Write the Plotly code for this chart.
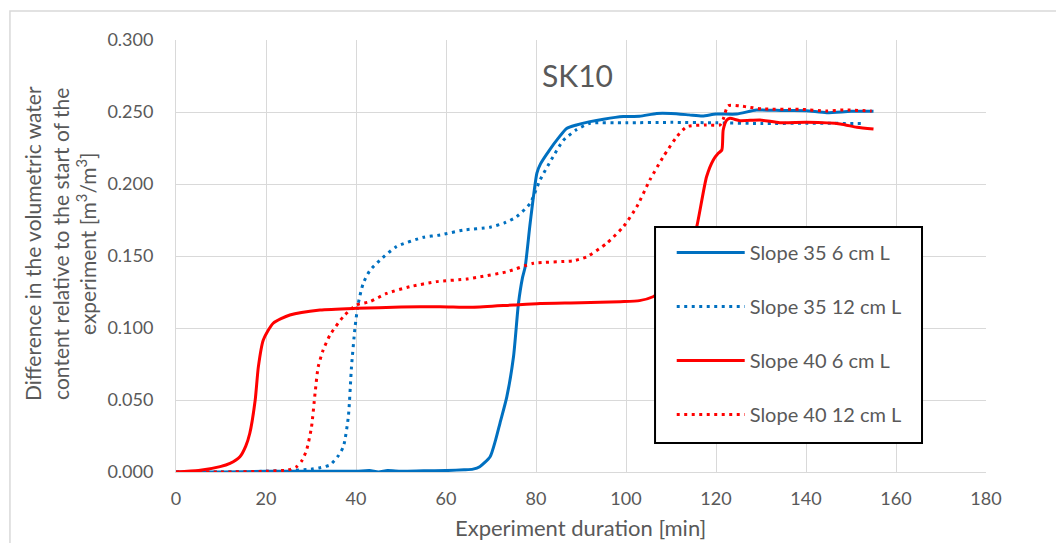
import plotly.graph_objects as go

# ---- data ----
s35_6_x = [0, 5, 10, 20, 30, 40, 43, 45, 47, 50, 55, 60, 64, 66, 67.5, 69.8, 71, 72, 73.5, 75, 76.1, 77, 77.6, 78.7,
           80.2, 81, 83, 85, 86.8, 89, 92, 95, 99.4, 103, 106.8, 110, 114, 117, 120, 124.6, 129, 135, 140, 144.6, 150, 155]
s35_6_y = [0, 0, 0, 0.0005, 0.0005, 0.0005, 0.001, 0, 0.001, 0.0005, 0.0008, 0.001, 0.0015, 0.002, 0.0037, 0.0106,
           0.022, 0.034, 0.052, 0.08, 0.117, 0.135, 0.1426, 0.1727, 0.2076, 0.214, 0.2236, 0.232, 0.2386, 0.241,
           0.2433, 0.245, 0.2468, 0.247, 0.249, 0.249, 0.248, 0.2472, 0.2486, 0.2486, 0.2514, 0.251, 0.2509,
           0.2495, 0.2505, 0.2505]

s35_12_x = [0, 10, 20, 25, 30, 32, 34.2, 36, 37.2, 38.3, 39.0, 39.8, 40.5, 41.6, 43.1, 45.3, 49, 55, 58.7, 63.8,
            69.8, 73, 75.7, 78.7, 80.9, 83.8, 86, 88.9, 92, 100, 110, 120, 130, 140, 152.7]
s35_12_y = [0, 0, 0.0005, 0.001, 0.002, 0.003, 0.0049, 0.011, 0.0176, 0.0384, 0.0731, 0.1009, 0.117, 0.131, 0.140,
            0.147, 0.1565, 0.163, 0.1646, 0.168, 0.170, 0.173, 0.1773, 0.1866, 0.2028, 0.219, 0.23, 0.2375, 0.2421,
            0.2425, 0.2428, 0.2425, 0.242, 0.2422, 0.242]

s40_6_x = [0, 5, 9.8, 12, 14.2, 15.5, 16.4, 17.6, 18.3, 19.4, 21.6, 25.3, 32, 40.1, 50, 58.7, 66, 75, 80.9, 90,
           98.7, 103, 106, 109, 112, 114, 115.7, 117.9, 119.4, 120.5, 121.3, 121.6, 122.4, 123.1, 125.3, 129.8,
           134.2, 140.2, 147.6, 151.3, 155]
s40_6_y = [0, 0.001, 0.0037, 0.006, 0.0106, 0.018, 0.0269, 0.05, 0.073, 0.0917, 0.1033, 0.109, 0.1125, 0.1137,
           0.1145, 0.1148, 0.1144, 0.116, 0.117, 0.1175, 0.1183, 0.119, 0.1217, 0.128, 0.14, 0.153, 0.170, 0.205,
           0.2167, 0.2213, 0.2236, 0.2375, 0.2444, 0.2456, 0.244, 0.2444, 0.2426, 0.2428, 0.2417, 0.2394, 0.2382]

s40_12_x = [0, 10, 20, 25, 26.8, 28, 29, 30.1, 30.9, 31.6, 32.7, 34.2, 37.2, 40.1, 43.1, 46.8, 52, 57.9, 64.6, 67.6,
            73.5, 79.4, 88.3, 91.3, 95.7, 99.4, 102.4, 105.3, 108.3, 111.3, 113.5, 117.9, 120.9, 121.6, 122.7, 125.3,
            127.6, 130.5, 138.7, 144.6, 148.3, 154.6]
s40_12_y = [0, 0, 0.0005, 0.0015, 0.0037, 0.008, 0.015, 0.031, 0.0546, 0.073, 0.0847, 0.095, 0.108, 0.116, 0.1183,
            0.124, 0.1287, 0.1322, 0.134, 0.1356, 0.139, 0.1449, 0.1467, 0.1495, 0.1588, 0.1703, 0.1842, 0.2028,
            0.219, 0.2329, 0.2398, 0.241, 0.241, 0.245, 0.2544, 0.2542, 0.2532, 0.2521, 0.2519, 0.2507, 0.2514, 0.2507]

names = ["Slope 35 6 cm L", "Slope 35 12 cm L", "Slope 40 6 cm L", "Slope 40 12 cm L"]
chart_title = "SK10"
x_title = "Experiment duration [min]"
y_title = "Difference in the volumetric water<br>content relative to the start of the<br>experiment [m<sup>3</sup>/m<sup>3</sup>]"

BLUE = "#0070C0"
RED = "#FF0000"
TXT = "#595959"
FONT = "Lato"
DOT = "3px,4.5px"

fig = go.Figure()
series = [
    (s35_6_x, s35_6_y, BLUE, "solid"),
    (s35_12_x, s35_12_y, BLUE, DOT),
    (s40_6_x, s40_6_y, RED, "solid"),
    (s40_12_x, s40_12_y, RED, DOT),
]
for i, (xs, ys, col, dash) in enumerate(series):
    fig.add_trace(go.Scatter(x=xs, y=ys, mode="lines", name=names[i], legendgroup=f"g{i}",
                             line=dict(color=col, width=3, dash=dash, shape="spline", smoothing=0.6)))

fig.update_layout(
    width=1056, height=535,
    margin=dict(l=168, r=78, t=32, b=71),
    paper_bgcolor="white", plot_bgcolor="white",
    font=dict(family=FONT, size=18, color=TXT),
    showlegend=True,
    legend=dict(x=0.612, y=0.553, xanchor="left", yanchor="top",
                bgcolor="rgba(0,0,0,0)", borderwidth=0,
                font=dict(family=FONT, size=20, color=TXT),
                tracegroupgap=25, itemwidth=68),
    xaxis=dict(range=[0, 180], dtick=20, tick0=0, showgrid=True, gridcolor="#d9d9d9", gridwidth=1,
               showline=True, linecolor="#d9d9d9", linewidth=1, zeroline=False, ticks="",
               ticklabelstandoff=10, tickfont=dict(size=18, color=TXT)),
    yaxis=dict(range=[0, 0.3], dtick=0.05, tick0=0, tickformat=".3f", showgrid=True, gridcolor="#d9d9d9",
               gridwidth=1, showline=True, linecolor="#d9d9d9", linewidth=1, zeroline=False, ticks="",
               ticklabelstandoff=18, tickfont=dict(size=18, color=TXT)),
    shapes=[
        dict(type="rect", xref="paper", yref="paper", x0=-0.205, x1=1.2, y0=-0.3, y1=1.067,
             line=dict(color="#d9d9d9", width=1.5), fillcolor="rgba(0,0,0,0)", layer="below"),
        dict(type="rect", xref="paper", yref="paper", x0=0.5914, x1=0.921, y0=0.0671, y1=0.567,
             line=dict(color="black", width=2), fillcolor="white", layer="above"),
    ],
    annotations=[
        dict(text=chart_title, xref="paper", yref="paper", x=0.496, y=0.918, showarrow=False,
             font=dict(family=FONT, size=30, color=TXT), xanchor="center", yanchor="middle"),
        dict(text=x_title, xref="paper", yref="paper", x=0.499, y=-0.128, showarrow=False,
             font=dict(family=FONT, size=22, color=TXT), xanchor="center", yanchor="middle"),
        dict(text=y_title, xref="paper", yref="paper", x=-0.143, y=0.528, showarrow=False, textangle=-90,
             font=dict(family=FONT, size=21, color=TXT), xanchor="center", yanchor="middle"),
    ],
)

fig.write_html("out.html")
